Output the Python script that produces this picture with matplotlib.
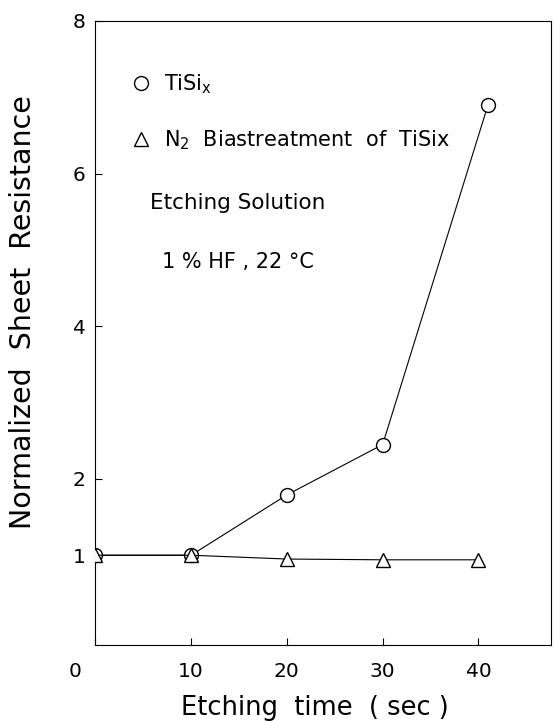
import matplotlib
matplotlib.use("Agg")
import matplotlib.pyplot as plt
from matplotlib.lines import Line2D
import matplotlib.transforms as mtransforms

plt.rcParams["font.family"] = ["DejaVu Sans"]
plt.rcParams["mathtext.default"] = "regular"

# data
time_tisix = [0, 10, 20, 30, 41]
res_tisix = [1.0, 1.0, 1.79, 2.45, 6.9]

time_n2 = [0, 10, 20, 30, 40]
res_n2 = [1.0, 1.0, 0.95, 0.94, 0.94]

xticks = [0, 10, 20, 30, 40]
yticks = [1, 2, 4, 6, 8]

fig = plt.figure(figsize=(5.54, 7.21), dpi=100)
ax = fig.add_axes([0.172, 0.105, 0.823, 0.866])

ax.plot(time_tisix, res_tisix, color="black", lw=0.8, marker="o", ms=10,
        mfc="white", mec="black", mew=1.0, zorder=3)
ax.plot(time_n2, res_n2, color="black", lw=0.8, marker="^", ms=10,
        mfc="white", mec="black", mew=1.0, zorder=4)

ax.set_xlim(0, 47.6)
ax.set_ylim(-0.18, 8)
ax.set_xticks(xticks)
ax.set_yticks(yticks)
ax.tick_params(direction="in", length=5, width=0.8, labelsize=14.5)
ax.tick_params(axis="y", pad=7)
ax.tick_params(axis="x", pad=12)
for s in ax.spines.values():
    s.set_linewidth(0.8)

# the "0" label sits left of the axis in the original
lbl0 = ax.get_xticklabels()[0]
lbl0.set_transform(lbl0.get_transform() + mtransforms.ScaledTranslation(-0.2, 0, fig.dpi_scale_trans))

ax.set_xlabel("Etching  time  ( sec )", fontsize=18.5)
ax.xaxis.set_label_coords(0.482, -0.08)
ax.set_ylabel("Normalized  Sheet  Resistance", fontsize=20.5)
ax.yaxis.set_label_coords(-0.128, 0.534)

handles = [
    Line2D([], [], ls="none", marker="o", ms=10, mfc="none", mec="black"),
    Line2D([], [], ls="none", marker="^", ms=10, mfc="none", mec="black"),
]
labels = ["TiSi$_x$", "N$_2$  Biastreatment  of  TiSix"]
ax.legend(handles, labels, loc="upper left", bbox_to_anchor=(0.078, 0.918),
          frameon=False, fontsize=15, handlelength=1.0, handletextpad=0.6,
          labelspacing=1.55, borderpad=0, borderaxespad=0)

ax.text(0.12, 0.708, "Etching Solution", transform=ax.transAxes,
        fontsize=15.5, va="center")
ax.text(0.146, 0.614, "1 % HF , 22 °C", transform=ax.transAxes,
        fontsize=15, va="center")

fig.savefig("out.png", dpi=100)
